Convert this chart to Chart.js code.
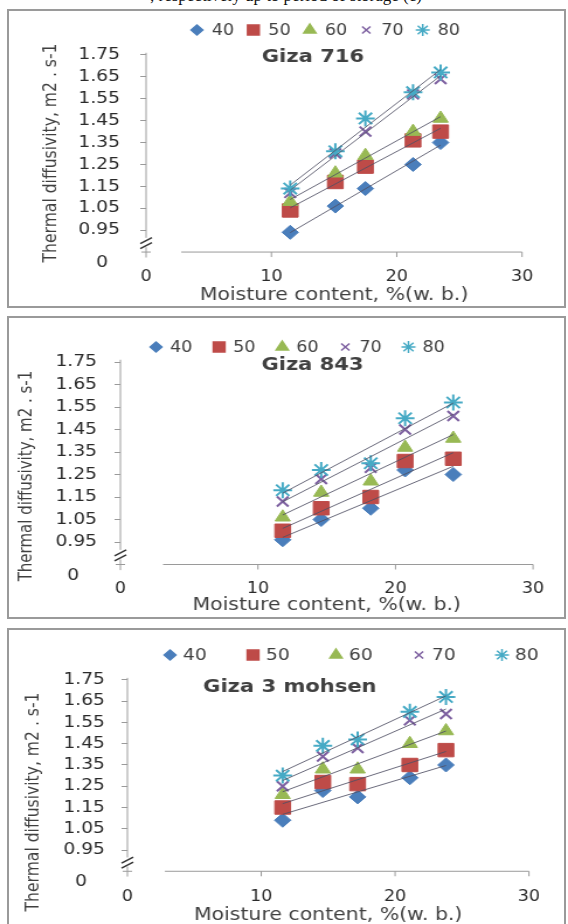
<!DOCTYPE html>
<html>
<head>
<meta charset="utf-8">
<title>Thermal diffusivity vs moisture content</title>
<script src="https://cdn.jsdelivr.net/npm/chart.js@4.4.0/dist/chart.umd.min.js"></script>
<style>
  html, body { margin: 0; padding: 0; background: #fff; }
  body { width: 568px; height: 924px; position: relative; overflow: hidden; }
  canvas { position: absolute; left: 0; }
  .frame { position: absolute; left: 7px; width: 559px; border: 2px solid #9a9a9a; box-sizing: border-box; z-index: 2; }
  .caption { position: absolute; left: 150px; top: -14px; font: 17px 'Liberation Serif', serif; white-space: nowrap; color: #111; }
</style>
</head>
<body>
<div class="caption">, respectively up to period of storage (c)</div>

<canvas id="giza716" width="486" height="297" style="top:10px;width:568px;height:297px"></canvas>
<div class="frame" style="top:9px;height:299px"></div>

<canvas id="giza843" width="486" height="301" style="top:317px;width:568px;height:301px"></canvas>
<div class="frame" style="top:316px;height:303px"></div>

<canvas id="mohsen" width="486" height="300" style="top:630px;width:568px;height:300px"></canvas>
<div class="frame" style="top:628px;height:310px"></div>

<script>
// legend names (air temperature) and axis ticks
const temps = ['40', '50', '60', '70', '80'];
const xTicks = [0, 10, 20, 30];
const yTicks = [0.80, 0.95, 1.05, 1.15, 1.25, 1.35, 1.45, 1.55, 1.65, 1.75];
const zeroTick = 0.80;   // broken axis: this position is labelled "0"

// Giza 716
const moisture716 = [11.5, 15.1, 17.5, 21.3, 23.5];
const giza716_40 = [0.94, 1.06, 1.14, 1.25, 1.35];
const giza716_50 = [1.04, 1.17, 1.24, 1.36, 1.40];
const giza716_60 = [1.08, 1.21, 1.29, 1.40, 1.46];
const giza716_70 = [1.12, 1.30, 1.40, 1.57, 1.64];
const giza716_80 = [1.14, 1.31, 1.46, 1.58, 1.67];

// Giza 843
const moisture843 = [11.8, 14.6, 18.2, 20.7, 24.2];
const giza843_40 = [0.96, 1.05, 1.10, 1.27, 1.25];
const giza843_50 = [1.00, 1.10, 1.15, 1.31, 1.32];
const giza843_60 = [1.06, 1.17, 1.22, 1.37, 1.41];
const giza843_70 = [1.13, 1.23, 1.28, 1.45, 1.51];
const giza843_80 = [1.18, 1.27, 1.30, 1.50, 1.57];

// Giza 3 mohsen
const moistureMohsen = [11.6, 14.6, 17.2, 21.1, 23.8];
const mohsen_40 = [1.09, 1.23, 1.20, 1.29, 1.35];
const mohsen_50 = [1.15, 1.27, 1.26, 1.35, 1.42];
const mohsen_60 = [1.21, 1.33, 1.33, 1.45, 1.51];
const mohsen_70 = [1.25, 1.39, 1.43, 1.56, 1.59];
const mohsen_80 = [1.30, 1.44, 1.47, 1.60, 1.67];

const xTitle = 'Moisture content, %(w. b.)';
const yTitle = 'Thermal diffusivity, m2 . s-1';

// styles
const FONT = "'DejaVu Sans', sans-serif";
const colors = ['#4a7ebb', '#be4b48', '#98b954', '#7d60a0', '#46aac5'];
const markers = ['rectRot', 'rect', 'triangle', 'crossRot', 'star'];
const markerSize = [7, 9.5, 7.5, 7, 8];
const legendMarkerSize = [5, 7, 6, 5, 6];
const axisColor = '#9a9a9a';
const textColor = '#2a2a2a';

// layout of each panel, in canvas units (canvas is stretched 568/486 wide)
const look716 = {
    yWidth: 125, padRight: 39.3, padTop: 38.4, xHeight: 44,
    yTickPad: 17.4, xTickPad: 5.4, xTitlePad: 1.5, zeroLabel: '0  ',
    yTitleX: 43.6, yTitleY: 143, yTitleSize: 15.6,
    titleX: 267.8, titleY: 47,
    legendX: 168.5, legendGap: 48.3, legendY: 20, legendTextOff: 12.8, legendFont: 15,
    xAxisFrom: 2.8
};
const look843 = {
    yWidth: 103, padRight: 29.9, padTop: 38.25, xHeight: 42.25,
    yTickPad: 15, xTickPad: 4.7, xTitlePad: 2.5, zeroLabel: '0   ',
    yTitleX: 23.1, yTitleY: 159, yTitleSize: 15,
    titleX: 267.4, titleY: 48,
    legendX: 133.5, legendGap: 54, legendY: 30, legendTextOff: 12, legendFont: 15,
    xAxisFrom: 3.1
};
const lookMohsen = {
    yWidth: 109, padRight: 33.4, padTop: 43.6, xHeight: 48.1,
    yTickPad: 14.2, xTickPad: 6.5, xTitlePad: 4.5, zeroLabel: '0   ',
    yTitleX: 29.1, yTitleY: 172, yTitleSize: 15.6,
    titleX: 248, titleY: 57,
    legendX: 145.5, legendGap: 71, legendY: 25, legendTextOff: 11, legendFont: 16,
    xAxisFrom: 2.8
};

// least squares trendline over the measured range, like the Excel linear trendline
function trend(xs, ys){
    const n = xs.length;
    const mx = xs.reduce((a, b) => a + b, 0) / n;
    const my = ys.reduce((a, b) => a + b, 0) / n;
    let sxy = 0, sxx = 0;
    for(let i = 0; i < n; i++){
        sxy += (xs[i] - mx) * (ys[i] - my);
        sxx += (xs[i] - mx) * (xs[i] - mx);
    }
    const b = sxy / sxx;
    const a = my - b * mx;
    return [xs[0], xs[n - 1]].map(x => ({x: x, y: a + b * x}));
}

/**
 * axes with the break, titles and the legend
 */
const decor = {
    id: 'decor',
    beforeDatasetsDraw(chart, args, o){
        const ctx = chart.ctx;
        const xs = chart.scales.x;
        const ys = chart.scales.y;
        const x0 = xs.getPixelForValue(0);
        const yAxis = ys.getPixelForValue(0.85);
        ctx.save();
        ctx.strokeStyle = axisColor;
        ctx.lineWidth = 1;
        ctx.beginPath();
        // y axis, cut just above the x axis
        ctx.moveTo(x0, ys.getPixelForValue(1.76));
        ctx.lineTo(x0, ys.getPixelForValue(0.915));
        ctx.moveTo(x0, ys.getPixelForValue(0.872));
        ctx.lineTo(x0, ys.getPixelForValue(0.825));
        ctx.moveTo(x0 - 4, yAxis);
        ctx.lineTo(x0 + 4, yAxis);
        // x axis starts after the gap
        ctx.moveTo(xs.getPixelForValue(o.xAxisFrom), yAxis);
        ctx.lineTo(xs.getPixelForValue(30), yAxis);
        xTicks.slice(1).forEach(v => {
            const px = xs.getPixelForValue(v);
            ctx.moveTo(px, yAxis);
            ctx.lineTo(px, yAxis + 5);
        });
        ctx.stroke();
        // break marks
        const yb = ys.getPixelForValue(0.893);
        ctx.strokeStyle = '#333';
        ctx.lineWidth = 1.4;
        ctx.beginPath();
        ctx.moveTo(x0 - 5, yb + 1);
        ctx.lineTo(x0 + 5, yb - 5);
        ctx.moveTo(x0 - 5, yb + 6);
        ctx.lineTo(x0 + 5, yb);
        ctx.stroke();
        ctx.restore();
    },
    afterDraw(chart, args, o){
        const ctx = chart.ctx;
        ctx.save();
        ctx.fillStyle = '#404040';
        ctx.textAlign = 'center';
        ctx.textBaseline = 'middle';
        ctx.font = 'bold 18px ' + FONT;
        ctx.fillText(o.title, o.titleX, o.titleY);

        ctx.save();
        ctx.font = o.yTitleSize + 'px ' + FONT;
        ctx.translate(o.yTitleX, o.yTitleY);
        ctx.rotate(-Math.PI / 2);
        ctx.fillText(yTitle, 0, 0);
        ctx.restore();

        // legend
        temps.forEach((t, i) => {
            const lx = o.legendX + i * o.legendGap;
            ctx.fillStyle = colors[i];
            ctx.strokeStyle = colors[i];
            ctx.lineWidth = 1.5;
            Chart.helpers.drawPoint(ctx, {
                pointStyle: markers[i], radius: legendMarkerSize[i], rotation: 0, borderWidth: 1.5
            }, lx, o.legendY);
            ctx.fillStyle = '#404040';
            ctx.textAlign = 'left';
            ctx.font = o.legendFont + 'px ' + FONT;
            ctx.fillText(t, lx + o.legendTextOff, o.legendY + 1);
        });
        ctx.restore();
    }
};

function drawPanel(id, title, moisture, series, look){
    const ctx = document.getElementById(id).getContext('2d');
    const datasets = [];

    // trendlines on top of the markers
    series.forEach((ys, i) => {
        datasets.push({
            label: temps[i] + ' trend',
            data: trend(moisture, ys),
            showLine: true,
            borderColor: 'rgba(80,80,100,0.85)',
            borderWidth: 1,
            pointRadius: 0,
            order: 0
        });
    });
    series.forEach((ys, i) => {
        datasets.push({
            label: temps[i],
            data: moisture.map((x, k) => ({x: x, y: ys[k]})),
            pointStyle: markers[i],
            pointRadius: markerSize[i],
            backgroundColor: colors[i],
            borderColor: colors[i],
            borderWidth: (i >= 3) ? 2 : 1,
            showLine: false,
            order: 10 - i
        });
    });

    new Chart(ctx, {
        type: 'scatter',
        data: { datasets: datasets },
        plugins: [decor],
        options: {
            responsive: false,
            devicePixelRatio: 1,
            animation: false,
            events: [],
            layout: { padding: { left: 0, right: look.padRight, top: look.padTop, bottom: 0 } },
            plugins: {
                legend: { display: false },
                tooltip: { enabled: false },
                decor: Object.assign({ title: title }, look)
            },
            scales: {
                x: {
                    type: 'linear',
                    min: 0,
                    max: 30,
                    afterBuildTicks: s => { s.ticks = xTicks.map(v => ({value: v})); },
                    afterFit: s => { s.height = look.xHeight; },
                    grid: { display: false, drawTicks: false },
                    border: { display: false },
                    ticks: { padding: look.xTickPad, color: textColor, font: { family: FONT, size: 15 } },
                    title: {
                        display: true, text: xTitle, color: '#404040',
                        font: { family: FONT, size: 17.5 },
                        padding: { top: 0, bottom: look.xTitlePad }
                    }
                },
                y: {
                    type: 'linear',
                    min: zeroTick,
                    max: 1.78,
                    afterBuildTicks: s => { s.ticks = yTicks.map(v => ({value: v})); },
                    afterFit: s => { s.width = look.yWidth; },
                    grid: {
                        drawOnChartArea: false,
                        tickLength: 5,
                        color: c => (c.tick && c.tick.value === zeroTick) ? 'rgba(0,0,0,0)' : axisColor
                    },
                    border: { display: false },
                    ticks: {
                        padding: look.yTickPad,
                        color: textColor,
                        font: { family: FONT, size: 16 },
                        callback: v => v === zeroTick ? look.zeroLabel : v.toFixed(2)
                    }
                }
            }
        }
    });
}

drawPanel('giza716', 'Giza 716', moisture716,
    [giza716_40, giza716_50, giza716_60, giza716_70, giza716_80], look716);
drawPanel('giza843', 'Giza 843', moisture843,
    [giza843_40, giza843_50, giza843_60, giza843_70, giza843_80], look843);
drawPanel('mohsen', 'Giza 3 mohsen', moistureMohsen,
    [mohsen_40, mohsen_50, mohsen_60, mohsen_70, mohsen_80], lookMohsen);
</script>
</body>
</html>
